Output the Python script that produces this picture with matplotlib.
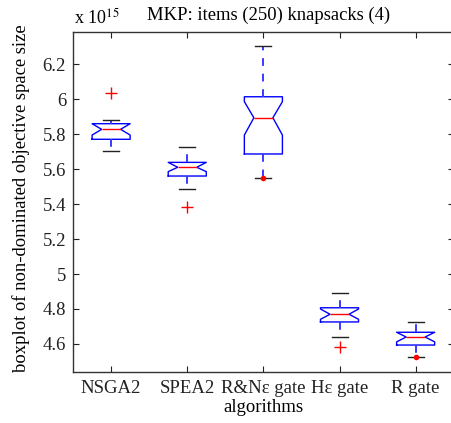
import matplotlib
matplotlib.use('Agg')
import matplotlib.pyplot as plt
from matplotlib.ticker import FuncFormatter

plt.rcParams['font.family'] = ['Liberation Serif', 'DejaVu Serif']
plt.rcParams['mathtext.fontset'] = 'stix'

# values in units of 1e15
algos = ['NSGA2', 'SPEA2', 'R&N\u03b5 gate', 'H\u03b5 gate', 'R gate']
q1 = [5.770, 5.560, 5.686, 4.726, 4.594]
med = [5.827, 5.610, 5.893, 4.770, 4.640]
q3 = [5.859, 5.638, 6.013, 4.807, 4.667]
ci_lo = [5.794, 5.585, 5.794, 4.741, 4.612]
ci_hi = [5.859, 5.638, 5.985, 4.800, 4.667]
whisk_lo = [5.705, 5.484, 5.547, 4.642, 4.528]
whisk_hi = [5.880, 5.726, 6.305, 4.890, 4.727]
outliers = [[6.033], [5.381], [], [4.581], []]
dots = [[], [], [5.547], [], [4.528]]

stats = []
for i in range(len(algos)):
    stats.append({'med': med[i], 'q1': q1[i], 'q3': q3[i],
                  'cilo': ci_lo[i], 'cihi': ci_hi[i],
                  'whislo': whisk_lo[i], 'whishi': whisk_hi[i],
                  'fliers': outliers[i], 'label': algos[i]})

fig = plt.figure(figsize=(4.51, 4.23), dpi=100)
ax = fig.add_axes([0.162, 0.1206, 0.844, 0.8037])

pos = list(range(1, len(algos) + 1))
ax.bxp(stats, positions=pos, widths=0.5, shownotches=True, capwidths=0.21,
       boxprops=dict(color='blue', linewidth=1.0),
       whiskerprops=dict(color='#3a3aff', linewidth=1.4, linestyle=(0, (4, 4))),
       capprops=dict(color='#222222', linewidth=1.0),
       medianprops=dict(color='red', linewidth=1.0),
       flierprops=dict(marker='+', markeredgecolor='red', markersize=8, markeredgewidth=1.0))

for i, d in enumerate(dots):
    if d:
        ax.plot([pos[i]] * len(d), d, '.', color='red', markersize=6, zorder=4)

ax.set_xlim(0.5, 5.5)
ax.set_ylim(4.44, 6.383)
ax.set_xticks(pos)
ax.set_xticklabels(algos)
ax.set_yticks([4.6, 4.8, 5.0, 5.2, 5.4, 5.6, 5.8, 6.0, 6.2])
ax.yaxis.set_major_formatter(FuncFormatter(lambda v, p: '%g' % round(v, 1)))
ax.tick_params(direction='in', length=4, width=0.8, top=True, right=True,
               labelsize=13.5, colors='#222222')
ax.tick_params(axis='x', pad=6)
ax.tick_params(axis='y', pad=5)
for s in ax.spines.values():
    s.set_color('#333333')
    s.set_linewidth(1.0)

ax.set_xlabel('algorithms', fontsize=13.5, labelpad=1)
fig.text(0.046, 0.531, 'boxplot of non-dominated objective space size',
         rotation=90, ha='center', va='center', fontsize=13.4)
fig.text(0.164, 0.957, r'x 10$^{15}$', fontsize=13, ha='left', va='center')
fig.text(0.596, 0.963, 'MKP: items (250) knapsacks (4)', fontsize=13.4,
         ha='center', va='center')

fig.savefig('out.png', dpi=100)
